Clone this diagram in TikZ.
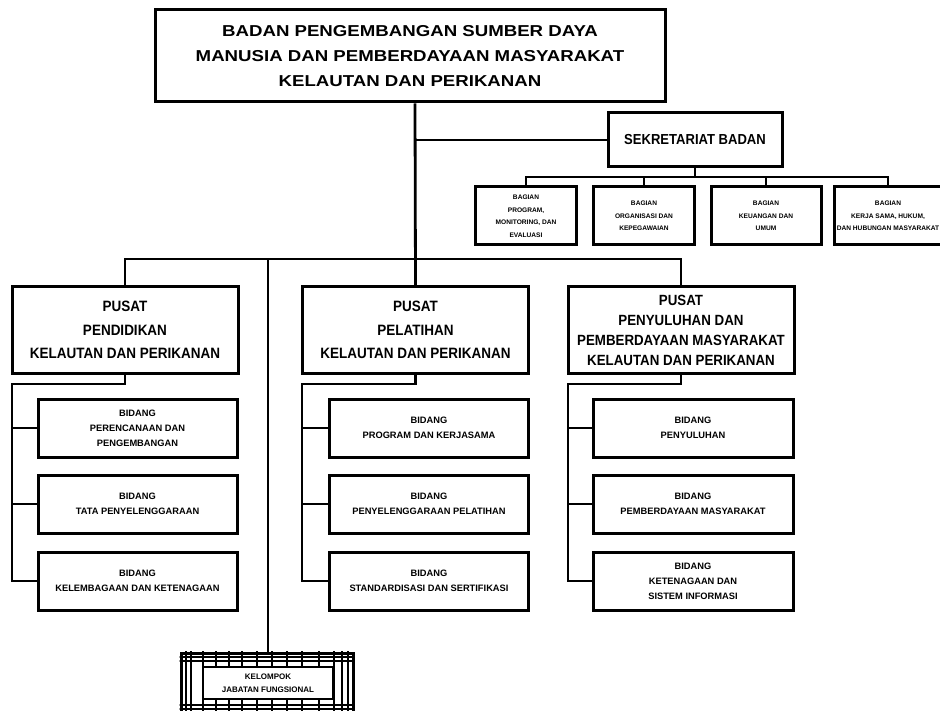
\documentclass[tikz,border=0pt]{standalone}
\usepackage{fontspec}
\setmainfont{Liberation Sans}
\newfontfamily\widefont[FakeStretch=1.18]{Liberation Sans}
\newfontfamily\narrowfont[FakeStretch=0.9]{Liberation Sans}
\usetikzlibrary{positioning}

\begin{document}
\begin{tikzpicture}[x=1pt, y=-1pt,
  unit/.style={draw, line width=3pt, fill=white, align=center, inner sep=2pt},
  head/.style={unit, minimum width=510pt, minimum height=92pt, font=\widefont\bfseries\fontsize{15.8}{25}\selectfont},
  sekbox/.style={unit, minimum width=174pt, minimum height=54pt, font=\narrowfont\bfseries\fontsize{14.5}{18}\selectfont},
  pusat/.style={unit, minimum width=226pt, minimum height=86pt, font=\narrowfont\bfseries\fontsize{15}{23.5}\selectfont},
  bidang/.style={unit, minimum width=199pt, minimum height=58pt, font=\bfseries\fontsize{9.3}{15}\selectfont},
  bagian/.style={unit, minimum width=101pt, minimum height=58pt, font=\bfseries\fontsize{6.6}{12.5}\selectfont},
  conn/.style={line width=2.8pt},
  thinconn/.style={line width=1.8pt},
]
\fill[white] (0,0) rectangle (940,711);
\useasboundingbox (0,0) rectangle (940,711);

\node[head] (badan) at (410,56) {BADAN PENGEMBANGAN SUMBER DAYA\\MANUSIA DAN PEMBERDAYAAN MASYARAKAT\\KELAUTAN DAN PERIKANAN};

\node[sekbox] (sekret) at (695,140) {SEKRETARIAT BADAN};
\node[bagian] (bag1) at (526,216) {BAGIAN\\PROGRAM,\\MONITORING, DAN\\EVALUASI};
\node[bagian] (bag2) at (644,216) {BAGIAN\\ORGANISASI DAN\\KEPEGAWAIAN};
\node[bagian, minimum width=110pt] (bag3) at (766,216) {BAGIAN\\KEUANGAN DAN\\UMUM};
\node[bagian] (bag4) at (888,216) {BAGIAN\\KERJA SAMA, HUKUM,\\DAN HUBUNGAN MASYARAKAT};

\node[pusat] (pusdik) at (125,330) {PUSAT\\PENDIDIKAN\\KELAUTAN DAN PERIKANAN};
\node[pusat] (puslat) at (415.5,330) {PUSAT\\PELATIHAN\\KELAUTAN DAN PERIKANAN};
\node[pusat, font=\narrowfont\bfseries\fontsize{14.8}{20}\selectfont] (pusluh) at (681,330) {PUSAT\\PENYULUHAN DAN\\PEMBERDAYAAN MASYARAKAT\\KELAUTAN DAN PERIKANAN};

\node[bidang] (dikA) at (137.5,428) {BIDANG\\PERENCANAAN DAN\\PENGEMBANGAN};
\node[bidang] (dikB) at (137.5,504) {BIDANG\\TATA PENYELENGGARAAN};
\node[bidang] (dikC) at (137.5,581) {BIDANG\\KELEMBAGAAN DAN KETENAGAAN};

\node[bidang] (latA) at (429,428) {BIDANG\\PROGRAM DAN KERJASAMA};
\node[bidang] (latB) at (429,504) {BIDANG\\PENYELENGGARAAN PELATIHAN};
\node[bidang] (latC) at (429,581) {BIDANG\\STANDARDISASI DAN SERTIFIKASI};

\node[bidang, minimum width=200pt] (luhA) at (693,428) {BIDANG\\PENYULUHAN};
\node[bidang, minimum width=200pt] (luhB) at (693,504) {BIDANG\\PEMBERDAYAAN MASYARAKAT};
\node[bidang, minimum width=200pt] (luhC) at (693,581) {BIDANG\\KETENAGAAN DAN\\SISTEM INFORMASI};

% kelompok jabatan fungsional, grid box
\node[draw, line width=3pt, minimum width=172pt, minimum height=72pt] (kelompok) at (267,689) {};
\begin{scope}
  \clip (kelompok.north west) rectangle (kelompok.south east);
  \foreach \gx in {186,191,203,216,229,242,257,272,287,302,319,334,342,348}
    \draw[line width=1.2pt] (\gx,640) -- (\gx,730);
  \foreach \gy in {657,661,705,709}
    \draw[line width=1.2pt] (170,\gy) -- (365,\gy);
\end{scope}
\node[unit, line width=2.2pt, minimum width=130pt, minimum height=32pt, font=\bfseries\fontsize{8}{13}\selectfont] (kelompoktxt) at (268,683) {KELOMPOK\\JABATAN FUNGSIONAL};

\coordinate (bar) at (415,259);
\coordinate (sbar) at (695,177);
\coordinate (dikbr) at (12,384);
\coordinate (latbr) at (302,384);
\coordinate (luhbr) at (568,384);

\draw[conn] (badan.south -| bar) -- (puslat.north);
\draw[conn] (pusdik.north) |- (bar) -| (pusluh.north);
\draw[conn] (kelompok.north -| 268,0) -- (bar -| 268,0);
\draw[thinconn] (sekret.west) -- (sekret.west -| bar);

\draw[conn] (sekret.south) -- (sbar);
\draw[conn] (bag1.north) |- (sbar) -| (bag4.north);
\draw[conn] (bag2.north) -- (bag2.north |- sbar);
\draw[conn] (bag3.north) -- (bag3.north |- sbar);

\draw[conn] (pusdik.south) |- (dikbr) |- (dikC.west);
\draw[conn] (dikbr) |- (dikA.west);
\draw[conn] (dikbr) |- (dikB.west);

\draw[conn] (puslat.south) |- (latbr) |- (latC.west);
\draw[conn] (latbr) |- (latA.west);
\draw[conn] (latbr) |- (latB.west);

\draw[conn] (pusluh.south) |- (luhbr) |- (luhC.west);
\draw[conn] (luhbr) |- (luhA.west);
\draw[conn] (luhbr) |- (luhB.west);

\end{tikzpicture}
\end{document}
